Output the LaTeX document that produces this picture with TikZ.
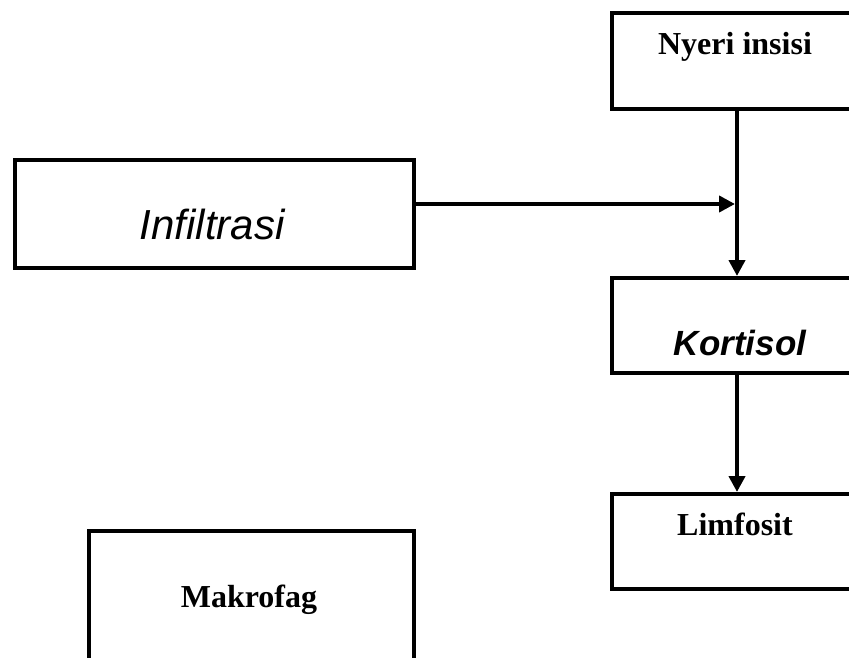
\documentclass[tikz,border=0pt]{standalone}
\usepackage{fontspec}
\setmainfont{Liberation Serif}
\setsansfont{Liberation Sans}
\usetikzlibrary{arrows.meta}
\begin{document}
\begin{tikzpicture}[x=1pt,y=-1pt,
  box/.style={draw,line width=4pt,rectangle,inner sep=0pt,anchor=north west},
  serifb/.style={anchor=base,font=\fontsize{32}{36}\selectfont\bfseries},
  conn/.style={line width=4pt,-{Triangle[length=16pt,width=16pt]}}]
\useasboundingbox (0,0) rectangle (849,658);
\clip (0,0) rectangle (849,658);
\node[box,minimum width=250pt,minimum height=96pt] (nyeri) at (610,11) {};
\node[box,minimum width=399pt,minimum height=108pt] (infil) at (13,158) {};
\node[box,minimum width=250pt,minimum height=95pt] (kort) at (610,276) {};
\node[box,minimum width=250pt,minimum height=95pt] (limf) at (610,492) {};
\node[box,minimum width=325pt,minimum height=180pt] (makro) at (87,529) {};
\node[serifb] (tnyeri) at (735,55) {Nyeri insisi};
\node[anchor=base,font=\fontsize{42}{46}\selectfont\sffamily\itshape] (tinfil) at (212,239) {Infiltrasi};
\node[anchor=base,font=\fontsize{35}{40}\selectfont\sffamily\bfseries\itshape] (tkort) at (740,355) {Kortisol};
\node[serifb] (tlimf) at (735,535) {Limfosit};
\node[serifb] (tmakro) at (249,607) {Makrofag};
\coordinate (j) at (735,204);
\draw[conn] (nyeri.south) -- (kort.north);
\draw[conn] (infil.east |- j) -- (j);
\draw[conn] (kort.south) -- (limf.north);
\end{tikzpicture}
\end{document}
